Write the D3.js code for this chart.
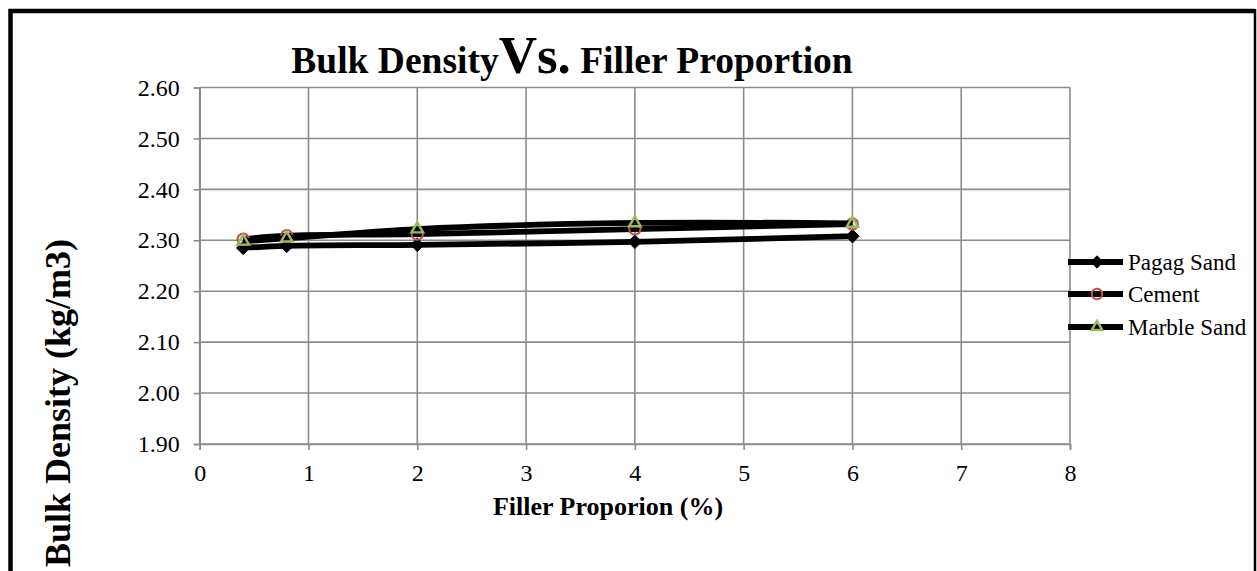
<!DOCTYPE html>
<html><head><meta charset="utf-8">
<script src="https://cdn.jsdelivr.net/npm/d3@7"></script>
<style>html,body{margin:0;padding:0;background:#fff;}svg{display:block;}</style>
</head><body>
<svg id="c" width="1257" height="571"></svg>
<script>
const xValues = [0.4, 0.8, 2, 4, 6];
const pagagSand = [2.285, 2.289, 2.291, 2.297, 2.308];
const cement = [2.302, 2.309, 2.312, 2.322, 2.332];
const marbleSand = [2.298, 2.304, 2.322, 2.334, 2.333];
const seriesNames = ["Pagag Sand", "Cement", "Marble Sand"];
const xTicks = [0, 1, 2, 3, 4, 5, 6, 7, 8];
const yTicks = [1.9, 2.0, 2.1, 2.2, 2.3, 2.4, 2.5, 2.6];

const svg = d3.select("#c");
const font = "'Liberation Serif','Times New Roman',serif";
const x = d3.scaleLinear().domain([0, 8]).range([199.7, 1070]);
const y = d3.scaleLinear().domain([1.9, 2.6]).range([444, 87.5]);
const grid = "#8c8c8c";

// chart border
svg.append("path").attr("d", "M10.5,571 L10.5,11 L1255,11")
  .attr("fill", "none").attr("stroke", "#000").attr("stroke-width", 4.5);
svg.append("path").attr("d", "M1255,9 L1255,571")
  .attr("fill", "none").attr("stroke", "#000").attr("stroke-width", 2.5);

// gridlines
svg.append("g").selectAll("line").data(yTicks).join("line")
  .attr("x1", x(0)).attr("x2", x(8)).attr("y1", d => y(d)).attr("y2", d => y(d))
  .attr("stroke", grid).attr("stroke-width", 1.6);
svg.append("g").selectAll("line").data(xTicks).join("line")
  .attr("x1", d => x(d)).attr("x2", d => x(d)).attr("y1", y(1.9)).attr("y2", y(2.6))
  .attr("stroke", grid).attr("stroke-width", 1.6);

// axes
const yAxis = d3.axisLeft(y).tickValues(yTicks).tickFormat(d3.format(".2f")).tickSize(6).tickPadding(14);
const gy = svg.append("g").attr("transform", `translate(${x(0)},0)`).call(yAxis);
const xAxis = d3.axisBottom(x).tickValues(xTicks).tickFormat(d3.format("d")).tickSize(6).tickPadding(14);
const gx = svg.append("g").attr("transform", `translate(0,${y(1.9)})`).call(xAxis);
[gx, gy].forEach(g => {
  g.select(".domain").attr("stroke", grid).attr("stroke-width", 1.6);
  g.selectAll(".tick line").attr("stroke", grid).attr("stroke-width", 1.6);
  g.selectAll("text").attr("font-family", font).attr("font-size", 24).attr("fill", "#000");
});

// series
const data = [pagagSand, cement, marbleSand];
const line = d3.line().x((d, i) => x(xValues[i])).y(d => y(d)).curve(d3.curveCatmullRom);
const sym = [
  {type: d3.symbolDiamond2, size: 115, fill: "#000", stroke: "#000", sw: 1},
  {type: d3.symbolCircle, size: 100, fill: "none", stroke: "#C0504D", sw: 2},
  {type: d3.symbolTriangle2, size: 95, fill: "none", stroke: "#9BBB59", sw: 2.4}
];
data.forEach((vals, si) => {
  svg.append("path").datum(vals).attr("d", line)
    .attr("fill", "none").attr("stroke", "#000").attr("stroke-width", 5.8);
  svg.append("g").selectAll("path").data(vals).join("path")
    .attr("transform", (d, i) => `translate(${x(xValues[i])},${y(d)})`)
    .attr("d", d3.symbol().type(sym[si].type).size(sym[si].size))
    .attr("fill", sym[si].fill).attr("stroke", sym[si].stroke).attr("stroke-width", sym[si].sw);
});

// legend
const legY = [262, 294, 327];
seriesNames.forEach((name, i) => {
  const g = svg.append("g").attr("transform", `translate(0,${legY[i]})`);
  g.append("line").attr("x1", 1068).attr("x2", 1123).attr("y1", 0).attr("y2", 0)
    .attr("stroke", "#000").attr("stroke-width", 5.8);
  g.append("path").attr("transform", "translate(1097,0)")
    .attr("d", d3.symbol().type(sym[i].type).size(sym[i].size * 0.85))
    .attr("fill", sym[i].fill).attr("stroke", sym[i].stroke).attr("stroke-width", sym[i].sw);
  g.append("text").attr("x", 1128).attr("y", 8).attr("font-family", font)
    .attr("font-size", 23).text(name);
});

// title
const t = svg.append("text").attr("x", 572).attr("y", 73).attr("text-anchor", "middle")
  .attr("font-family", font).attr("font-weight", "bold").attr("font-size", 37.5);
t.append("tspan").text("Bulk Density");
t.append("tspan").attr("font-size", 53).text("Vs.");
t.append("tspan").text(" Filler Proportion");

// axis titles
svg.append("text").attr("x", 608).attr("y", 515).attr("text-anchor", "middle")
  .attr("font-family", font).attr("font-weight", "bold").attr("font-size", 26)
  .text("Filler Proporion (%)");
svg.append("text").attr("transform", "translate(70,403) rotate(-90)").attr("text-anchor", "middle")
  .attr("font-family", font).attr("font-weight", "bold").attr("font-size", 36)
  .text("Bulk Density (kg/m3)");
</script>
</body></html>
